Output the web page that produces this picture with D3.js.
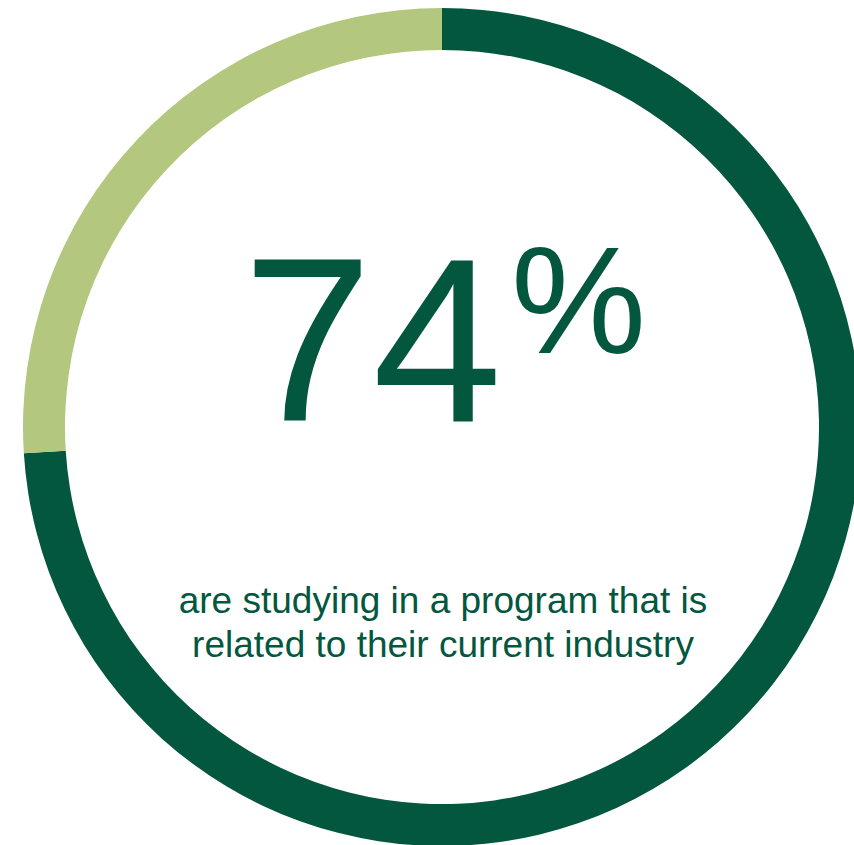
<!DOCTYPE html>
<meta charset="utf-8">
<html>
<head>
<title>74% ring</title>
<style>
  body { margin: 0; background: #fff; }
  text { font-family: "Liberation Sans", Arial, sans-serif; }
</style>
</head>
<body>
<div id="my_dataviz"></div>
<script src="https://cdn.jsdelivr.net/npm/d3@7"></script>
<script>

// data
var labels = ["related", "not related"];
var values = [74, 26];
var colors = ["#04573f", "#b3c77e"];
var bigNumber = "74";
var caption = ["are studying in a program that is", "related to their current industry"];

var width = 854, height = 845;
var cx = 442, cy = 427;
var outerR = 419, innerR = 377;

var svg = d3.select("#my_dataviz")
  .append("svg")
    .attr("width", width)
    .attr("height", height);

var g = svg.append("g")
    .attr("transform", "translate(" + cx + "," + cy + ")");

var pie = d3.pie().sort(null).value(function(d) { return d; });
var arc = d3.arc().innerRadius(innerR).outerRadius(outerR);

var color = d3.scaleOrdinal().domain(labels).range(colors);

g.selectAll("path")
  .data(pie(values))
  .enter()
  .append("path")
    .attr("d", arc)
    .attr("fill", function(d, i) { return color(labels[i]); });

// big number
svg.append("text")
  .attr("x", 502)
  .attr("y", 421)
  .attr("text-anchor", "end")
  .style("font-size", "233px")
  .style("fill", colors[0])
  .text(bigNumber);

svg.append("text")
  .attr("x", 511)
  .attr("y", 353)
  .style("font-size", "152px")
  .style("fill", colors[0])
  .text("%");

// caption
svg.selectAll("text.cap")
  .data(caption)
  .enter()
  .append("text")
    .attr("class", "cap")
    .attr("x", 443)
    .attr("y", function(d, i) { return 613 + i * 44; })
    .attr("text-anchor", "middle")
    .style("font-size", "37px")
    .style("fill", colors[0])
    .text(function(d) { return d; });

</script>
</body>
</html>
